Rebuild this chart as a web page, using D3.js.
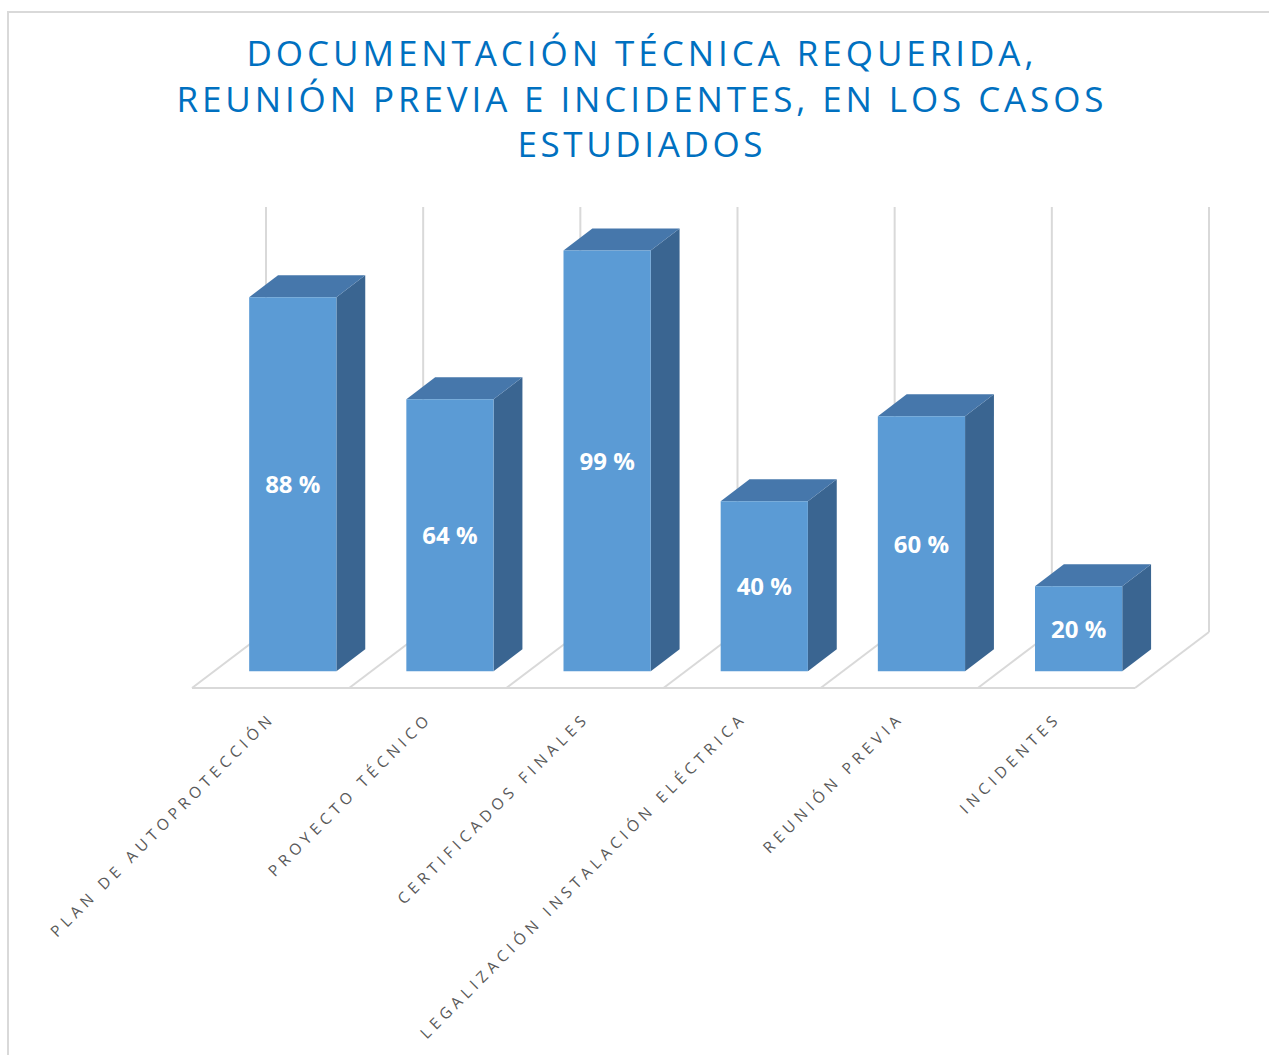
<!DOCTYPE html>
<html>
<head>
<meta charset="utf-8">
<script src="https://cdn.jsdelivr.net/npm/d3@7"></script>
<style>
  html, body { margin: 0; padding: 0; background: #ffffff; }
  svg { display: block; }
</style>
</head>
<body>
<svg id="chart" width="1269" height="1055"></svg>
<script>
// ---- data ----
const titleLines = [
  "DOCUMENTACIÓN TÉCNICA REQUERIDA,",
  "REUNIÓN PREVIA E INCIDENTES, EN LOS CASOS",
  "ESTUDIADOS"
];
const categories = [
  "PLAN DE AUTOPROTECCIÓN",
  "PROYECTO TÉCNICO",
  "CERTIFICADOS FINALES",
  "LEGALIZACIÓN INSTALACIÓN ELÉCTRICA",
  "REUNIÓN PREVIA",
  "INCIDENTES"
];
const values = [88, 64, 99, 40, 60, 20];
const valueDomain = [0, 100];

// ---- layout / style ----
const W = 1269, H = 1055;
const floorY = 688;                 // front edge of the floor
const depthVec = [74, -56];         // full floor depth (oblique)
const barFrontFrac = 0.30;          // bar front plane depth fraction
const barBackFrac = 0.69;           // bar back plane depth fraction
const colors = {
  front: "#5b9bd5", top: "#4677ab", side: "#3a6591",
  grid: "#d9d9d9", title: "#0070c0", label: "#595959"
};

const svg = d3.select("#chart");

const x = d3.scaleBand().domain(categories).range([192, 1135]).padding(0);
const h = d3.scaleLinear().domain(valueDomain).range([0, 425]);
const barW = x.bandwidth() * 0.555;

// oblique projection: (x on front floor line, height, depth fraction) -> screen
function P(px, ph, f) {
  return [px + f * depthVec[0], floorY + f * depthVec[1] - ph];
}
const line = d3.line();

// ---- outer border (left & top) ----
svg.append("path")
  .attr("d", `M8,${H} L8,12 L${W},12`)
  .attr("fill", "none").attr("stroke", colors.grid).attr("stroke-width", 2);

// ---- title ----
const titleWidths = [787, 927, 245];
svg.append("g").selectAll("text").data(titleLines).join("text")
  .attr("x", 640)
  .attr("y", (d, i) => 66 + i * 45.5)
  .attr("text-anchor", "middle")
  .attr("font-family", "'Open Sans', 'DejaVu Sans', sans-serif")
  .attr("font-size", 35)
  .attr("textLength", (d, i) => titleWidths[i])
  .attr("lengthAdjust", "spacing")
  .attr("fill", colors.title)
  .text(d => d);

// ---- back wall vertical gridlines ----
const boundaries = d3.range(categories.length + 1).map(i =>
  i < categories.length ? x(categories[i]) : x.range()[1]);
svg.append("g").selectAll("path").data(boundaries).join("path")
  .attr("d", bx => line([P(bx, 0, 1), P(bx, h(100), 1)]))
  .attr("stroke", colors.grid).attr("stroke-width", 2).attr("fill", "none");

// ---- floor ----
const floor = svg.append("g").attr("fill", "none")
  .attr("stroke", colors.grid).attr("stroke-width", 2);
floor.append("path").attr("d", line([P(x.range()[0], 0, 0), P(x.range()[1], 0, 0)]));
floor.selectAll(".diag").data(boundaries).join("path")
  .attr("d", bx => line([P(bx, 0, 0), P(bx, 0, 1)]));

// ---- bars ----
const bars = svg.append("g").selectAll("g").data(categories).join("g");
bars.each(function(c, i) {
  const g = d3.select(this);
  const cx = x(c) + x.bandwidth() / 2;
  const xl = cx - barW / 2, xr = cx + barW / 2;
  const bh = h(values[i]);
  const f1 = barFrontFrac, f2 = barBackFrac;
  // side
  g.append("path")
    .attr("d", line([P(xr, 0, f1), P(xr, bh, f1), P(xr, bh, f2), P(xr, 0, f2)]) + "Z")
    .attr("fill", colors.side);
  // top
  g.append("path")
    .attr("d", line([P(xl, bh, f1), P(xr, bh, f1), P(xr, bh, f2), P(xl, bh, f2)]) + "Z")
    .attr("fill", colors.top);
  // front
  g.append("path")
    .attr("d", line([P(xl, 0, f1), P(xr, 0, f1), P(xr, bh, f1), P(xl, bh, f1)]) + "Z")
    .attr("fill", colors.front);
  // value label
  const mid = P(cx, bh / 2, f1);
  g.append("text")
    .attr("x", mid[0]).attr("y", mid[1] + 8.8)
    .attr("text-anchor", "middle")
    .attr("font-family", "'Open Sans', sans-serif")
    .attr("font-weight", 700)
    .attr("font-size", 24)
    .attr("fill", "#ffffff")
    .text(values[i] + " %");
});

// ---- category labels ----
svg.append("g").selectAll("text").data(categories).join("text")
  .attr("transform", c => `translate(${x(c) + x.bandwidth() / 2 + 5.5},719) rotate(-45)`)
  .attr("text-anchor", "end")
  .attr("font-family", "'Open Sans', sans-serif")
  .attr("font-size", 15.5)
  .attr("letter-spacing", 4.8)
  .attr("fill", colors.label)
  .text(c => c);
</script>
</body>
</html>
